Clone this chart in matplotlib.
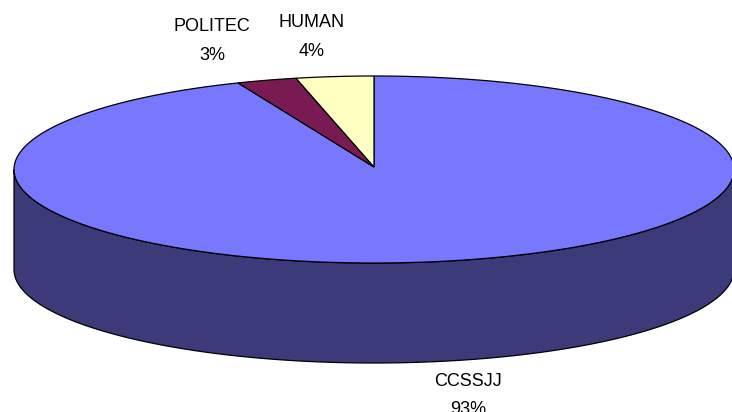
import numpy as np
import matplotlib
matplotlib.use("Agg")
import matplotlib.pyplot as plt
from matplotlib.patches import Polygon

# ---------------------------------------------------------------- data
LABELS = ["CCSSJJ", "POLITEC", "HUMAN"]
SHARES = [93, 3, 4]          # percent, drawn clockwise from 12 o'clock
PCT_TEXT = ["93%", "3%", "4%"]

# ---------------------------------------------------------------- style
TOP_COL = ["#7878FF", "#7A1A52", "#FFFFC2"]
SIDE_COL = "#3C3A78"
EDGE = "black"

# pie geometry in pixel space (y grows downward)
CX, CY = 374, 169.5
RX, RY = 360, 93.5
DEPTH = 100
WARP = 3.9     # slight perspective warp of angles (deg)

# label anchor (x, y of first line centre) in pixels
LABEL_POS = {"CCSSJJ": (468, 381), "POLITEC": (212, 26), "HUMAN": (312, 22)}
LINE_GAP = 29
FONT = ["Liberation Sans", "DejaVu Sans"]


def proj(theta_deg, yoff=0.0):
    t = np.radians(np.asarray(theta_deg, dtype=float))
    phi = t - np.radians(WARP) * np.sin(2 * t)
    return CX + RX * np.sin(phi), CY - RY * np.cos(phi) + yoff


fig = plt.figure(figsize=(7.32, 4.12), dpi=100)
ax = fig.add_axes([0, 0, 1, 1])
ax.set_xlim(0, 732)
ax.set_ylim(412, 0)
ax.axis("off")

# side wall (front half only is visible, all belongs to the big slice)
th = np.linspace(90, 270, 200)
xt, yt = proj(th)
xb, yb = proj(th[::-1], DEPTH)
side = np.column_stack([np.r_[xt, xb], np.r_[yt, yb]])
ax.add_patch(Polygon(side, closed=True, facecolor=SIDE_COL, edgecolor=EDGE,
                     lw=0.9, joinstyle="miter", zorder=1))

# top face wedges
start = 0.0
for lab, share, col in zip(LABELS, SHARES, TOP_COL):
    end = start + share / sum(SHARES) * 360
    th = np.linspace(start, end, max(int(end - start) * 2, 10))
    x, y = proj(th)
    pts = np.column_stack([np.r_[CX, x], np.r_[CY - 2.5, y]])
    ax.add_patch(Polygon(pts, closed=True, facecolor=col, edgecolor=EDGE,
                         lw=0.9, joinstyle="miter", zorder=2))
    start = end

# labels
for lab, pct in zip(LABELS, PCT_TEXT):
    lx, ly = LABEL_POS[lab]
    ax.text(lx, ly, lab, ha="center", va="center", fontsize=13, family=FONT)
    ax.text(lx, ly + LINE_GAP, pct, ha="center", va="center", fontsize=13,
            family=FONT)

fig.savefig("out.png", dpi=100, facecolor="white")
